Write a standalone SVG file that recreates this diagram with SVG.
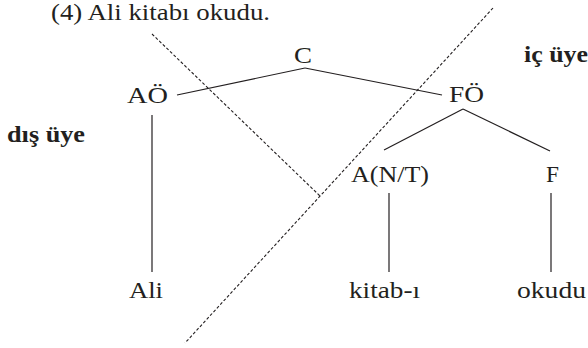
<svg xmlns="http://www.w3.org/2000/svg" width="588" height="348" viewBox="0 0 588 348">
<style>
text{font-family:"Liberation Serif","Times New Roman",serif;font-size:23px;fill:#231f20}
.b{font-weight:bold}
.e{stroke:#231f20;stroke-width:1.2;fill:none}
.d{stroke:#231f20;stroke-width:1.1;stroke-dasharray:3 2;fill:none}
</style>
<rect width="588" height="348" fill="#fff"/>
<g id="title"><text x="51" y="20" textLength="219" lengthAdjust="spacingAndGlyphs">(4) Ali kitabı okudu.</text></g>
<g id="dividers">
<line class="d" x1="152" y1="34" x2="320" y2="196"/>
<line class="d" x1="493" y1="8" x2="185" y2="343"/>
</g>
<g id="connectors">
<line class="e" x1="305" y1="68" x2="177" y2="95"/>
<line class="e" x1="305" y1="68" x2="442" y2="95"/>
<line class="e" x1="463" y1="109" x2="384" y2="150"/>
<line class="e" x1="463" y1="109" x2="550" y2="151"/>
<line class="e" x1="152" y1="115" x2="152" y2="272"/>
<line class="e" x1="389" y1="193" x2="389" y2="272"/>
<line class="e" x1="551" y1="193" x2="551" y2="272"/>
</g>
<g id="n-C"><text x="294" y="63" textLength="18" lengthAdjust="spacingAndGlyphs">C</text></g>
<g id="n-AO"><text x="127" y="103" textLength="41" lengthAdjust="spacingAndGlyphs">AÖ</text></g>
<g id="n-FO"><text x="449" y="102" textLength="35" lengthAdjust="spacingAndGlyphs">FÖ</text></g>
<g id="n-ANT"><text x="351" y="182" textLength="78" lengthAdjust="spacingAndGlyphs">A(N/T)</text></g>
<g id="n-F"><text x="546" y="182" textLength="13" lengthAdjust="spacingAndGlyphs">F</text></g>
<g id="n-Ali"><text x="129" y="298" textLength="34" lengthAdjust="spacingAndGlyphs">Ali</text></g>
<g id="n-kitabi"><text x="349" y="298" textLength="71" lengthAdjust="spacingAndGlyphs">kitab-ı</text></g>
<g id="n-okudu"><text x="517" y="298" textLength="69" lengthAdjust="spacingAndGlyphs">okudu</text></g>
<g id="l-dis"><text class="b" x="7" y="142" textLength="78" lengthAdjust="spacingAndGlyphs">dış üye</text></g>
<g id="l-ic"><text class="b" x="524" y="62" textLength="64" lengthAdjust="spacingAndGlyphs">iç üye</text></g>
</svg>
